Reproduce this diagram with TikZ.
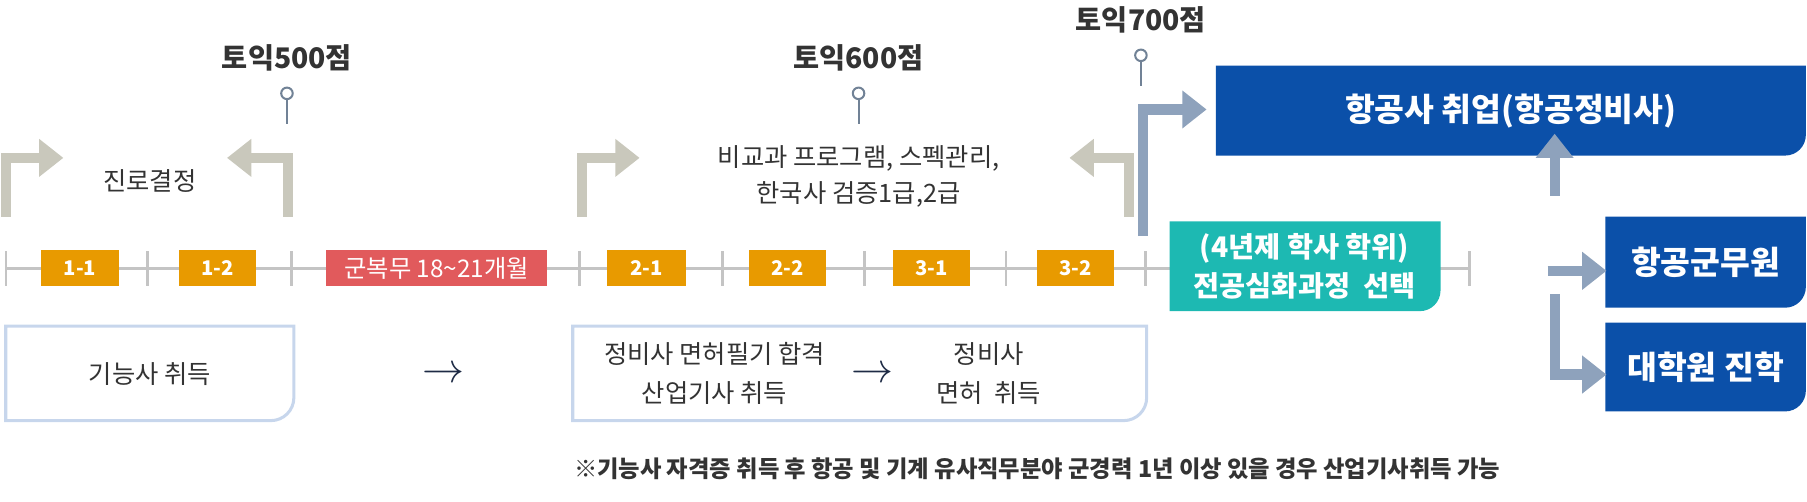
\documentclass[tikz,border=0pt]{standalone}
\usepackage{fontspec}
\setmainfont{Noto Sans CJK KR}
\usetikzlibrary{positioning, arrows.meta}
\definecolor{TermOrange}{HTML}{E89A00}
\definecolor{ArmyRed}{HTML}{E15A5C}
\definecolor{MajorTeal}{HTML}{1DB9B2}
\definecolor{JobBlue}{HTML}{0B50A9}
\definecolor{TurnGray}{HTML}{C9C8BC}
\definecolor{GoBlue}{HTML}{8EA2BC}
\definecolor{LineGray}{HTML}{C4C4C4}
\definecolor{BoxLine}{HTML}{C7D6EC}
\definecolor{TextGray}{HTML}{333333}
\definecolor{ThenNavy}{HTML}{1E2B45}
\tikzset{
  term/.style={fill=TermOrange, text=white, font=\fontsize{10}{11}\selectfont\bfseries},
  job/.style={fill=JobBlue, text=white, font=\fontsize{16}{18}\selectfont\bfseries},
  turn/.style={draw=TurnGray, line width=5pt, -{Triangle[length=12pt,width=18pt]}},
  go/.style={draw=GoBlue, line width=5pt, -{Triangle[length=12pt,width=18pt]}},
  plain/.style={text=TextGray, font=\fontsize{12.5}{18}\selectfont, align=center},
  then/.style={text=ThenNavy, font=\fontsize{20}{20}\selectfont},
  toeic/.style={text=TextGray, font=\fontsize{14}{16}\selectfont\bfseries}
}
\begin{document}
\begin{tikzpicture}[x=0.02cm, y=-0.02cm]
\useasboundingbox (0,0) rectangle (1568,435);
% timeline
\draw[LineGray, line width=1.2pt] (5,233) -- (1275,233);
\foreach \x in {5,128,253,503,627,750,873,994,1275}
  \draw[LineGray, line width=1.2pt] (\x,218) -- (\x,248);
% terms
\foreach \a/\b/\t in {36/103/1-1, 155/222/1-2, 527/595/2-1, 650/717/2-2, 775/842/3-1, 900/967/3-2}
  \fill[TermOrange] (\a,217) rectangle (\b,248) node[midway, term] {\t};
\fill[ArmyRed] (283,217) rectangle (475,248) node[midway, text=white, font=\fontsize{12}{13}\selectfont] {군복무 18\textasciitilde21개월};
% major box
\fill[MajorTeal] (1015,192) -- (1250,192) -- (1250,252) to[out=-90,in=0] (1232,270) -- (1015,270) -- cycle;
\node[text=white, font=\fontsize{14}{19}\selectfont\bfseries, align=center] (major) at (1132,231) {(4년제 학사 학위)\\전공심화과정\ \ 선택};
% goals
\fill[JobBlue] (1055,57) -- (1567,57) -- (1567,117) to[out=-90,in=0] (1549,135) -- (1055,135) -- cycle;
\node[job] (airline) at (1311,96) {항공사 취업(항공정비사)};
\fill[JobBlue] (1393,188) -- (1567,188) -- (1567,249) to[out=-90,in=0] (1549,267) -- (1393,267) -- cycle;
\node[job] (civil) at (1480,228) {항공군무원};
\fill[JobBlue] (1393,280) -- (1567,280) -- (1567,339) to[out=-90,in=0] (1549,357) -- (1393,357) -- cycle;
\node[job] (grad) at (1480,319) {대학원 진학};
% turn arrows
\draw[turn] (5,188) -- (5,137) -- (55,137);
\draw[turn] (250,188) -- (250,137) -- (197,137);
\draw[turn] (505,188) -- (505,137) -- (555,137);
\draw[turn] (980,188) -- (980,137) -- (928,137);
\node[plain] (decide) at (130,157) {진로결정};
\node[plain] (extra) at (745,153) {비교과 프로그램, 스펙관리,\\한국사 검증1급,2급};
% go arrows
\draw[go] (992,205) -- (992,95) -- (1047,95);
\draw[go] (1349,170) -- (1349,116);
\draw[go] (1343,235) -- (1394,235);
\draw[go] (1349,255) -- (1349,325) -- (1394,325);
% toeic pins
\foreach \x/\y/\score in {249/50/500, 745/50/600, 990/17/700} {
  \node[toeic] at (\x,\y) {토익{\score}점};
  \draw[GoBlue!80!black, line width=1pt] (\x,\y+36) -- (\x,\y+58);
  \draw[GoBlue!80!black, line width=1pt, fill=white] (\x,\y+31) circle (5);
}
% certificates
\draw[BoxLine, line width=1.5pt] (5,283) -- (255,283) -- (255,345) to[out=-90,in=0] (235,365) -- (5,365) -- cycle;
\draw[BoxLine, line width=1.5pt] (497,283) -- (995,283) -- (995,345) to[out=-90,in=0] (975,365) -- (497,365) -- cycle;
\node[plain] (craft) at (130,325) {기능사 취득};
\node[then] (then1) at (385,325) {$\rightarrow$};
\node[plain, font=\fontsize{12.5}{19}\selectfont] (written) at (620,324) {정비사 면허필기 합격\\산업기사 취득};
\node[then] (then2) at (757,325) {$\rightarrow$};
\node[plain, font=\fontsize{12.5}{19}\selectfont] (license) at (858,324) {정비사\\면허\ \ 취득};
\node[text=TextGray, font=\fontsize{11.5}{13}\selectfont\bfseries] (note) at (900,407) {※기능사 자격증 취득 후 항공 및 기계 유사직무분야 군경력 1년 이상 있을 경우 산업기사취득 가능};
\end{tikzpicture}
\end{document}
